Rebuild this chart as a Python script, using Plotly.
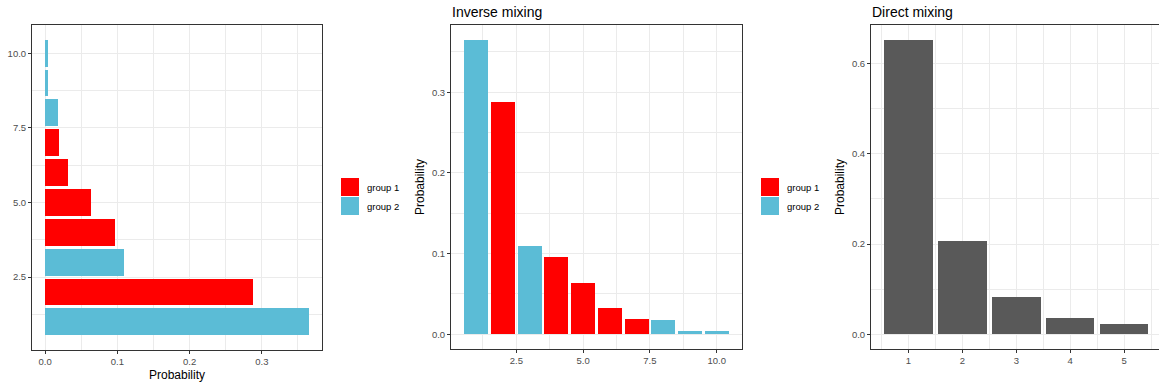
import plotly.graph_objects as go

# ---- data ----
positions = [1, 2, 3, 4, 5, 6, 7, 8, 9, 10]
probabilities = [0.365, 0.288, 0.109, 0.096, 0.064, 0.032, 0.019, 0.018, 0.004, 0.004]
groups = ["group 2", "group 1", "group 2", "group 1", "group 1",
          "group 1", "group 1", "group 2", "group 2", "group 2"]
group_names = ["group 1", "group 2"]
group_colors = {"group 1": "#FF0000", "group 2": "#5BBCD6"}

direct_x = [1, 2, 3, 4, 5]
direct_prob = [0.653, 0.206, 0.082, 0.035, 0.022]

W, H = 1159, 388
def px_x(p):
    return p / W
def px_y(p):
    return 1 - p / H

fig = go.Figure()

for g in group_names:
    xs = [x for x, gg in zip(positions, groups) if gg == g]
    ys = [y for y, gg in zip(probabilities, groups) if gg == g]
    # panel 1: horizontal
    fig.add_trace(go.Bar(x=ys, y=xs, orientation="h", width=0.9,
                         marker=dict(color=group_colors[g], line=dict(width=0)),
                         xaxis="x", yaxis="y", showlegend=False, name=g))
    # panel 2: vertical
    fig.add_trace(go.Bar(x=xs, y=ys, width=0.9,
                         marker=dict(color=group_colors[g], line=dict(width=0)),
                         xaxis="x2", yaxis="y2", showlegend=False, name=g))

fig.add_trace(go.Bar(x=direct_x, y=direct_prob, width=0.9,
                     marker=dict(color="#595959", line=dict(width=0)),
                     xaxis="x3", yaxis="y3", showlegend=False))

grid = "#EBEBEB"
border = "#333333"
tickfont = dict(family="Liberation Sans, Arial, sans-serif", size=9.5, color="#4D4D4D")
titlefont = dict(family="Liberation Sans, Arial, sans-serif", size=12, color="#000000")

def ax(domain, rng, tickvals, fmt, minor_dtick, anchor, mirror=True, title=None, standoff=None):
    d = dict(domain=domain, range=rng, tickvals=tickvals, tickformat=fmt,
             showgrid=True, gridcolor=grid, gridwidth=1,
             minor=dict(showgrid=True, gridcolor=grid, gridwidth=0.5,
                        dtick=minor_dtick, ticklen=0, tick0=0),
             zeroline=False, showline=True, linecolor=border, linewidth=1,
             mirror=mirror, ticks="outside", ticklen=3, tickcolor=border,
             tickwidth=1, tickfont=tickfont, anchor=anchor, fixedrange=True)
    if title:
        d["title"] = dict(text=title, font=titlefont, standoff=standoff)
    return d

y_top, y_bot = px_y(25), px_y(350)
y_bot2 = px_y(349)

fig.update_layout(
    width=W, height=H, margin=dict(l=0, r=0, t=0, b=0),
    paper_bgcolor="white", plot_bgcolor="white", barmode="overlay",
    bargap=0,
    font=dict(family="Liberation Sans, Arial, sans-serif"),
    xaxis=ax([px_x(32), px_x(322)], [-0.01825, 0.38325], [0, 0.1, 0.2, 0.3], ".1f", 0.05, "y",
             title="Probability", standoff=4),
    yaxis=ax([y_bot, y_top], [0.055, 10.945], [2.5, 5, 7.5, 10], ".1f", 1.25, "x"),
    xaxis2=ax([px_x(451), px_x(742)], [0.055, 10.945], [2.5, 5, 7.5, 10], ".1f", 1.25, "y2"),
    yaxis2=ax([y_bot2, y_top], [-0.01825, 0.38325], [0, 0.1, 0.2, 0.3], ".1f", 0.05, "x2",
              title="Probability", standoff=4),
    xaxis3=ax([px_x(871), 1.0], [0.305, 5.648], [1, 2, 3, 4, 5], "d", 0.5, "y3"),
    yaxis3=ax([y_bot2, y_top], [-0.03265, 0.68565], [0, 0.2, 0.4, 0.6], ".1f", 0.1, "x3",
              mirror=False, title="Probability", standoff=4),
)
fig.layout.xaxis3.minor.tick0 = 0.5
fig.layout.xaxis3.minor.dtick = 1
fig.layout.xaxis2.minor.tick0 = 0

shapes = []
annotations = []
# manual legends (right of panel 1 and panel 2)
for lx in (341, 761):
    for i, g in enumerate(group_names):
        top = 178 + i * 19
        shapes.append(dict(type="rect", xref="paper", yref="paper",
                           x0=px_x(lx), x1=px_x(lx + 18), y0=px_y(top + 18), y1=px_y(top),
                           fillcolor=group_colors[g], line=dict(width=0)))
        annotations.append(dict(text=g, xref="paper", yref="paper", x=px_x(lx + 24),
                                y=px_y(top + 9), xanchor="left", yanchor="middle",
                                showarrow=False,
                                font=dict(family="Liberation Sans, Arial, sans-serif",
                                          size=9.5, color="#000000")))
# panel titles
for tx, txt in ((451, "Inverse mixing"), (871, "Direct mixing")):
    annotations.append(dict(text=txt, xref="paper", yref="paper", x=px_x(tx - 1),
                            y=px_y(12), xanchor="left", yanchor="middle", showarrow=False,
                            font=dict(family="Liberation Sans, Arial, sans-serif",
                                      size=14, color="#000000")))
fig.update_layout(shapes=shapes, annotations=annotations)

fig.write_html("out.html", config={"displayModeBar": False},
               post_script="document.body.style.margin='0';document.body.style.overflow='hidden';")
